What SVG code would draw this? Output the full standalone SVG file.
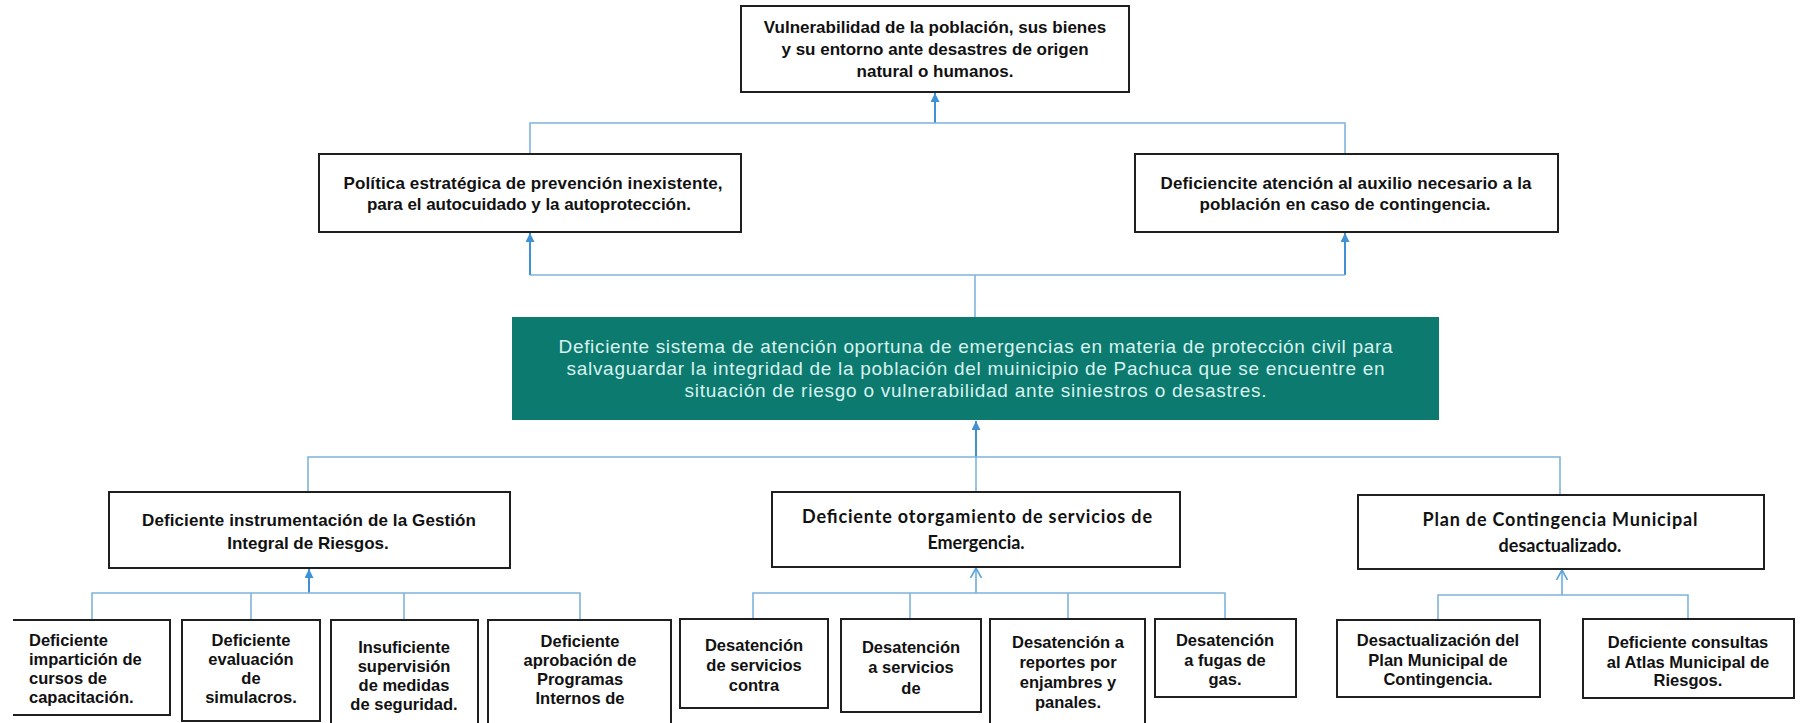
<svg xmlns="http://www.w3.org/2000/svg" width="1803" height="723" viewBox="0 0 1803 723">
<defs>
<style>
.box{fill:#ffffff;stroke:#1f1f1f;stroke-width:2}
.t{font-family:"Liberation Sans",Arial,sans-serif;font-weight:bold;font-size:17px;fill:#111111;text-anchor:middle}
.c{font-family:Lato,"Liberation Sans",sans-serif;font-weight:bold;font-size:18px;fill:#111111;text-anchor:middle}
.lf{font-family:"Liberation Sans",Arial,sans-serif;font-weight:bold;font-size:16.5px;fill:#111111;text-anchor:middle}
.g{font-family:"Liberation Sans",Arial,sans-serif;font-size:19px;fill:#d8f2ef;text-anchor:middle}
.ln{stroke:#7fb4dc;stroke-width:1.6;fill:none}
.ar{stroke:#3f91d3;stroke-width:2;fill:none}
.ac{stroke:#6aaee0;stroke-width:1.6;fill:none}
</style>
<marker id="tri" viewBox="0 0 10 10" refX="10" refY="5" markerWidth="10" markerHeight="9" markerUnits="userSpaceOnUse" orient="auto">
<path d="M0,0 L10,5 L0,10 z" fill="#3f91d3"/>
</marker>
<marker id="chev" viewBox="0 0 10 12" refX="10" refY="6" markerWidth="10" markerHeight="12" markerUnits="userSpaceOnUse" orient="auto">
<path d="M0,0.5 L10,6 L0,11.5" fill="none" stroke="#5aa3da" stroke-width="1.6"/>
</marker>
</defs>
<rect x="0" y="0" width="1803" height="723" fill="#ffffff"/>

<g id="connectors">
<!-- level 1 -->
<line class="ar" x1="935" y1="123" x2="935" y2="93" marker-end="url(#tri)"/>
<polyline class="ln" points="530,154 530,123 1345,123 1345,154"/>
<!-- level 2 -->
<line class="ar" x1="530" y1="275" x2="530" y2="233" marker-end="url(#tri)"/>
<line class="ar" x1="1345" y1="275" x2="1345" y2="233" marker-end="url(#tri)"/>
<line class="ln" x1="530" y1="275" x2="1345" y2="275"/>
<line class="ln" x1="975" y1="275" x2="975" y2="317"/>
<!-- level 3 -->
<line class="ar" x1="976" y1="457" x2="976" y2="421" marker-end="url(#tri)"/>
<polyline class="ln" points="308,492 308,457 1560,457 1560,495"/>
<line class="ln" x1="976" y1="457" x2="976" y2="492"/>
<!-- level 4 left -->
<line class="ar" x1="309" y1="593" x2="309" y2="569" marker-end="url(#tri)"/>
<polyline class="ln" points="92,620 92,593 580,593 580,620"/>
<line class="ln" x1="251" y1="593" x2="251" y2="620"/>
<line class="ln" x1="404" y1="593" x2="404" y2="620"/>
<!-- level 4 middle -->
<line class="ac" x1="976" y1="593" x2="976" y2="568" marker-end="url(#chev)"/>
<polyline class="ln" points="753,619 753,593 1225,593 1225,619"/>
<line class="ln" x1="910" y1="593" x2="910" y2="619"/>
<line class="ln" x1="1068" y1="593" x2="1068" y2="619"/>
<!-- level 4 right -->
<line class="ac" x1="1562" y1="595" x2="1562" y2="570" marker-end="url(#chev)"/>
<polyline class="ln" points="1438,620 1438,595 1688,595 1688,620"/>
</g>

<g id="n-top">
<rect class="box" x="741" y="6" width="388" height="86"/>
<text class="t" x="935" y="33">Vulnerabilidad de la población, sus bienes</text>
<text class="t" x="935" y="55">y su entorno ante desastres de origen</text>
<text class="t" x="935" y="77">natural o humanos.</text>
</g>

<g id="n-politica">
<rect class="box" x="319" y="154" width="422" height="78"/>
<text class="t" x="533" y="189" textLength="379" lengthAdjust="spacing">Política estratégica de prevención inexistente,</text>
<text class="t" x="529" y="210" textLength="324" lengthAdjust="spacing">para el autocuidado y la autoprotección.</text>
</g>

<g id="n-auxilio">
<rect class="box" x="1135" y="154" width="423" height="78"/>
<text class="t" x="1346" y="189" textLength="371" lengthAdjust="spacing">Deficiencite atención al auxilio necesario a la</text>
<text class="t" x="1345" y="210" textLength="291" lengthAdjust="spacing">población en caso de contingencia.</text>
</g>

<g id="n-central">
<rect x="512" y="317" width="927" height="103" fill="#0c7a6e"/>
<text class="g" x="975.5" y="353" textLength="834" lengthAdjust="spacing">Deficiente sistema de atención oportuna de emergencias en materia de protección civil para</text>
<text class="g" x="975.5" y="375" textLength="818" lengthAdjust="spacing">salvaguardar la integridad de la población del muinicipio de Pachuca que se encuentre en</text>
<text class="g" x="975.5" y="397" textLength="582" lengthAdjust="spacing">situación de riesgo o vulnerabilidad ante siniestros o desastres.</text>
</g>

<g id="n-gestion">
<rect class="box" x="109" y="492" width="401" height="76"/>
<text class="t" x="309" y="526" textLength="334" lengthAdjust="spacing">Deficiente instrumentación de la Gestión</text>
<text class="t" x="308" y="549">Integral de Riesgos.</text>
</g>

<g id="n-emergencia">
<rect class="box" x="772" y="492" width="408" height="75"/>
<text class="c" x="977" y="523" textLength="350" lengthAdjust="spacing">Deficiente otorgamiento de servicios de</text>
<text class="c" x="976" y="549">Emergencia.</text>
</g>

<g id="n-plan">
<rect class="box" x="1358" y="495" width="406" height="74"/>
<text class="c" x="1560" y="526" textLength="275" lengthAdjust="spacing">Plan de Contingencia Municipal</text>
<text class="c" x="1560" y="552">desactualizado.</text>
</g>

<g id="n-cursos">
<path class="box" d="M13,620 L170,620 L170,715 L13,715"/>
<text class="lf" style="text-anchor:start" x="29" y="646">Deficiente</text>
<text class="lf" style="text-anchor:start" x="29" y="665">impartición de</text>
<text class="lf" style="text-anchor:start" x="29" y="684">cursos de</text>
<text class="lf" style="text-anchor:start" x="29" y="703">capacitación.</text>
</g>

<g id="n-simulacros">
<rect class="box" x="182" y="620" width="138" height="101"/>
<text class="lf" x="251" y="646">Deficiente</text>
<text class="lf" x="251" y="665">evaluación</text>
<text class="lf" x="251" y="684">de</text>
<text class="lf" x="251" y="703">simulacros.</text>
</g>

<g id="n-supervision">
<rect class="box" x="331" y="620" width="147" height="110"/>
<text class="lf" x="404" y="653">Insuficiente</text>
<text class="lf" x="404" y="672">supervisión</text>
<text class="lf" x="404" y="691">de medidas</text>
<text class="lf" x="404" y="710">de seguridad.</text>
</g>

<g id="n-programas">
<rect class="box" x="488" y="620" width="183" height="110"/>
<text class="lf" x="580" y="647">Deficiente</text>
<text class="lf" x="580" y="666">aprobación de</text>
<text class="lf" x="580" y="685">Programas</text>
<text class="lf" x="580" y="704">Internos de</text>
</g>

<g id="n-contra">
<rect class="box" x="680" y="619" width="148" height="89"/>
<text class="lf" x="754" y="651">Desatención</text>
<text class="lf" x="754" y="671">de servicios</text>
<text class="lf" x="754" y="691">contra</text>
</g>

<g id="n-servicios">
<rect class="box" x="841" y="619" width="140" height="93"/>
<text class="lf" x="911" y="653">Desatención</text>
<text class="lf" x="911" y="673">a servicios</text>
<text class="lf" x="911" y="694">de</text>
</g>

<g id="n-enjambres">
<rect class="box" x="990" y="619" width="155" height="111"/>
<text class="lf" x="1068" y="648">Desatención a</text>
<text class="lf" x="1068" y="668">reportes por</text>
<text class="lf" x="1068" y="688">enjambres y</text>
<text class="lf" x="1068" y="708">panales.</text>
</g>

<g id="n-gas">
<rect class="box" x="1155" y="619" width="141" height="78"/>
<text class="lf" x="1225" y="646">Desatención</text>
<text class="lf" x="1225" y="666">a fugas de</text>
<text class="lf" x="1225" y="685">gas.</text>
</g>

<g id="n-desactualizacion">
<rect class="box" x="1337" y="620" width="203" height="77"/>
<text class="lf" x="1438" y="646">Desactualización del</text>
<text class="lf" x="1438" y="666">Plan Municipal de</text>
<text class="lf" x="1438" y="685">Contingencia.</text>
</g>

<g id="n-atlas">
<rect class="box" x="1583" y="619" width="211" height="79"/>
<text class="lf" x="1688" y="648">Deficiente consultas</text>
<text class="lf" x="1688" y="668">al Atlas Municipal de</text>
<text class="lf" x="1688" y="686">Riesgos.</text>
</g>
</svg>
